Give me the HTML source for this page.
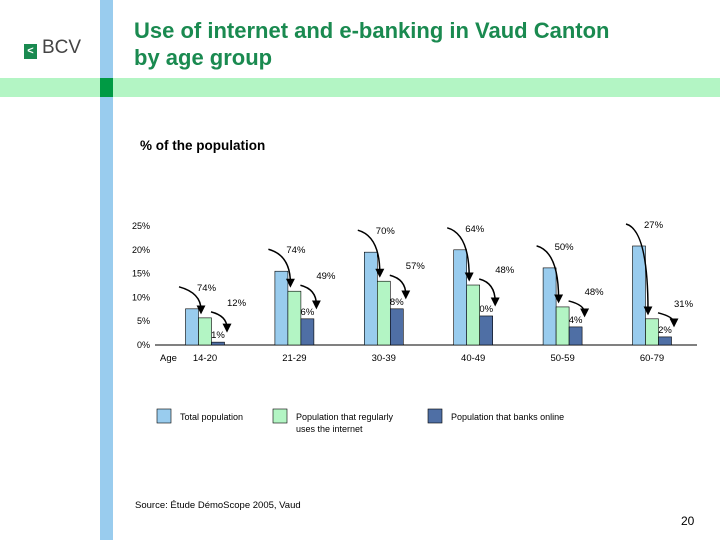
<!DOCTYPE html>
<html><head><meta charset="utf-8"><style>
body{margin:0;width:720px;height:540px;overflow:hidden;background:#fff;font-family:"Liberation Sans",sans-serif;position:relative}
.abs{position:absolute}
</style></head><body>
<div class="abs" style="left:100px;top:0;width:13px;height:540px;background:#99ccee"></div>
<div class="abs" style="left:0;top:78px;width:720px;height:19px;background:#b3f5c4"></div>
<div class="abs" style="left:100px;top:78px;width:13px;height:19px;background:#009a44"></div>
<div class="abs" style="left:24px;top:37px;font-size:19px;color:#444;letter-spacing:0px">
<span style="display:inline-block;width:13px;height:15px;background:#1a8a50;vertical-align:-1px;margin-right:5px;color:#fff;font-size:11px;line-height:15px;text-align:center;font-weight:bold">&lt;</span>BCV</div>
<div class="abs" style="left:134px;top:17px;font-size:22px;font-weight:bold;color:#1a8a50;line-height:27px">Use of internet and e-banking in Vaud Canton<br>by age group</div>
<div class="abs" style="left:140px;top:138px;font-size:13.5px;font-weight:bold;color:#000">% of the population</div>
<svg class="abs" style="left:0;top:0" width="720" height="540" id="chart"></svg>
<div class="abs" style="left:135px;top:500px;font-size:9.5px">Source: Étude DémoScope 2005, Vaud</div>
<div class="abs" style="left:681px;top:514px;font-size:12px">20</div>
<script>
const categories=["14-20","21-29","30-39","40-49","50-59","60-79"];
const totalPop=[7.6,15.5,19.5,20.0,16.2,20.8];
const internetPop=[5.7,11.3,13.4,12.6,8.0,5.5];
const bankingPop=[0.6,5.5,7.6,6.1,3.8,1.7];
const internetShare=["74%","74%","70%","64%","50%","27%"];
const bankingShare=["12%","49%","57%","48%","48%","31%"];
const bankingLabel=["1%","6%","8%","0%","4%","2%"];
const yTicks=[0,5,10,15,20,25];
const legendLabels=[["Total population"],["Population that regularly","uses the internet"],["Population that banks online"]];
const colors=["#99ccee","#b3f5c4","#4f6fa5"];
const NS="http://www.w3.org/2000/svg";
const svg=document.getElementById("chart");
const y0=345,pxPer=4.76;
function y(v){return y0-v*pxPer;}
function cx(i){return 205+i*89.4;}
function mk(t,a,p){const e=document.createElementNS(NS,t);for(const k in a)e.setAttribute(k,a[k]);(p||svg).appendChild(e);return e;}
const defs=mk("defs",{});
const m=mk("marker",{id:"ah",markerWidth:6,markerHeight:6,refX:3,refY:3,orient:"auto"},defs);
mk("path",{d:"M0,0L6,3L0,6z",fill:"#000"},m);
yTicks.forEach(t=>{const e=mk("text",{x:150,y:y(t)+3,"text-anchor":"end","font-size":"9",fill:"#000"});e.textContent=t+"%";

});
const ax=mk("line",{x1:155,x2:697,y1:y0,y2:y0,stroke:"#000","stroke-width":1});


const ag=mk("text",{x:160,y:361,"font-size":"9.5",fill:"#000"});ag.textContent="Age";


const w=13;
categories.forEach((c,i)=>{
  const x=cx(i);
  [totalPop[i],internetPop[i],bankingPop[i]].forEach((v,j)=>{
    const r=mk("rect",{x:x-w*1.5+j*w,y:y(v),width:w,height:v*pxPer,fill:colors[j],stroke:"#000","stroke-width":0.6});
    
    
  });
  const t=mk("text",{x:x,y:361,"text-anchor":"middle","font-size":"9.5"});t.textContent=c;
  
  
  const yt=y(totalPop[i]),yg=y(internetPop[i]),yd=y(bankingPop[i]);
  const a1=mk("path",{d:`M${x-26},${yt-22} Q${x-4},${yt-16} ${x-4},${yg-8}`,fill:"none",stroke:"#000","stroke-width":1.5,"marker-end":"url(#ah)"});
  
  
  const a2=mk("path",{d:`M${x+6},${yg-6} Q${x+22},${yg-2} ${x+22},${yd-14}`,fill:"none",stroke:"#000","stroke-width":1.5,"marker-end":"url(#ah)"});
  
  
  const l1=mk("text",{x:x-8,y:yt-18,"font-size":"9.5"});l1.textContent=internetShare[i];
  
  
  const l2=mk("text",{x:x+22,y:yg-12,"font-size":"9.5"});l2.textContent=bankingShare[i];
  
  
  const l3=mk("text",{x:x+13,y:yd-4,"text-anchor":"middle","font-size":"9.5"});l3.textContent=bankingLabel[i];
  
  
});
const lx=[157,273,428];
legendLabels.forEach((lines,j)=>{
  const r=mk("rect",{x:lx[j],y:409,width:14,height:14,fill:colors[j],stroke:"#000","stroke-width":0.6});
  
  
  lines.forEach((s,k)=>{const t=mk("text",{x:lx[j]+23,y:420+k*12,"font-size":"9"});t.textContent=s;
  
  });
});
</script>
</body></html>
